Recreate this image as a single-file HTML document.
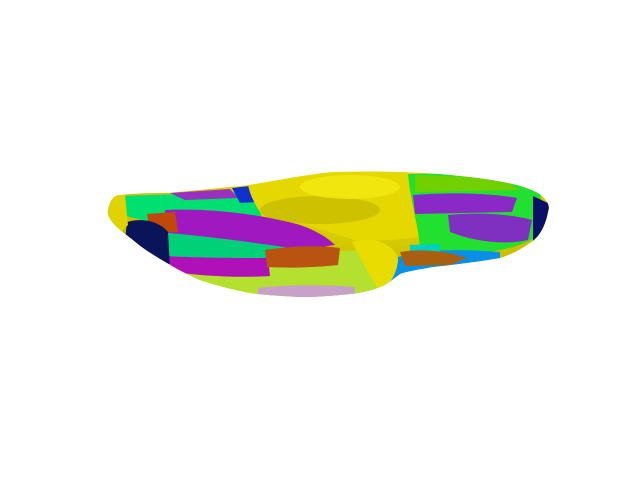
<!DOCTYPE html>
<html><head><meta charset="utf-8"><style>
html,body{margin:0;padding:0;background:#fff;width:640px;height:480px;overflow:hidden}
</style></head><body>
<svg width="640" height="480" viewBox="0 0 640 480" xmlns="http://www.w3.org/2000/svg">
<defs>
<clipPath id="c"><path d="M108,210 C110,200 114,195 120,195 C140,193 155,193 167,193 C200,190 230,187 250,185 C280,180 310,174 333,172 C380,171 420,172 450,175 C480,178 500,181 517,185 C530,189 540,193 543,197 C548,202 550,206 548,212 C545,228 538,238 530,243 C520,250 510,255 500,258 C470,263 450,265 433,267 C415,270 405,272 400,274 C392,280 386,285 380,287 C370,291 360,293 350,294 C330,296 315,297 300,297 C280,296 265,295 250,293 C230,289 215,285 200,280 C188,275 177,269 167,263 C155,256 142,248 133,240 C124,233 117,228 113,223 C109,218 107,214 108,210 Z"/></clipPath>
<radialGradient id="g" cx="0.58" cy="0.15" r="0.6"><stop offset="0" stop-color="#f0e400"/><stop offset="1" stop-color="#c8bc00"/></radialGradient>
</defs>
<g clip-path="url(#c)">
<rect x="100" y="160" width="460" height="150" fill="url(#g)"/>
<path d="M170,255 L380,250 L395,275 L380,300 L170,300 Z" fill="#b4e030"/>
<path d="M120,196 L248,192 C255,200 260,210 262,218 L240,222 L150,222 L118,214 Z" fill="#00e070"/>
<path d="M165,210 C210,208 260,214 300,225 C320,232 330,240 335,245 L300,250 C260,248 210,244 168,240 Z" fill="#a018c0"/>
<path d="M155,232 C200,235 250,242 290,248 L340,250 L300,262 C260,262 210,262 165,258 Z" fill="#00d078"/>
<path d="M165,256 C200,258 240,258 268,258 L270,276 C240,278 200,276 175,272 Z" fill="#b010b8"/>
<path d="M265,250 C290,246 320,245 340,248 L338,265 C310,268 285,268 267,267 Z" fill="#b85410"/>
<path d="M147,214 L175,212 L178,232 L150,233 Z" fill="#c04808"/>
<path d="M127,222 C140,218 158,220 168,232 L170,268 L140,262 L125,240 Z" fill="#0a1458"/>
<path d="M258,288 C290,284 330,285 355,287 L355,300 L258,300 Z" fill="#c8a0c8"/>
<path d="M170,193 L230,189 L238,198 L185,200 Z" fill="#9a30c0"/>
<path d="M232,188 L250,186 L256,202 L240,203 Z" fill="#1030d0"/>
<path d="M248,185 C290,176 340,170 408,172 C410,195 412,215 420,237 C400,240 380,240 360,242 C330,232 300,222 262,215 C255,205 250,195 248,185 Z" fill="#e4d800"/>
<ellipse cx="320" cy="210" rx="60" ry="14" fill="#b8ac00" opacity="0.5"/>
<ellipse cx="350" cy="187" rx="50" ry="12" fill="#f4ea10" opacity="0.8"/>
<path d="M408,174 C450,172 500,178 540,192 L545,230 C530,245 500,252 470,254 L420,252 C420,230 410,200 408,174 Z" fill="#22e030"/>
<path d="M415,175 L500,178 L520,190 L415,192 Z" fill="#70d000"/>
<path d="M413,195 C450,192 490,193 517,198 L512,212 L415,214 Z" fill="#8a28c8"/>
<path d="M448,215 C480,212 510,214 532,220 L528,240 C505,245 475,242 450,232 Z" fill="#8030c0"/>
<path d="M385,262 C410,250 450,248 500,252 L500,262 C460,266 420,272 400,276 L383,290 Z" fill="#0890e8"/>
<path d="M410,245 L440,244 L440,252 L410,254 Z" fill="#00d0c0"/>
<path d="M400,252 C425,248 450,252 467,258 L450,265 L405,266 Z" fill="#a86010"/>
<path d="M533,196 L552,205 L550,235 L533,242 Z" fill="#0a1068"/>
<path d="M352,242 C372,236 392,242 398,258 C398,272 390,285 380,292 C372,280 364,265 352,242 Z" fill="#e8dc00"/>
<path d="M105,195 L125,195 L128,225 L118,235 L105,225 Z" fill="#e0d400"/>
</g>
</svg>
</body></html>
